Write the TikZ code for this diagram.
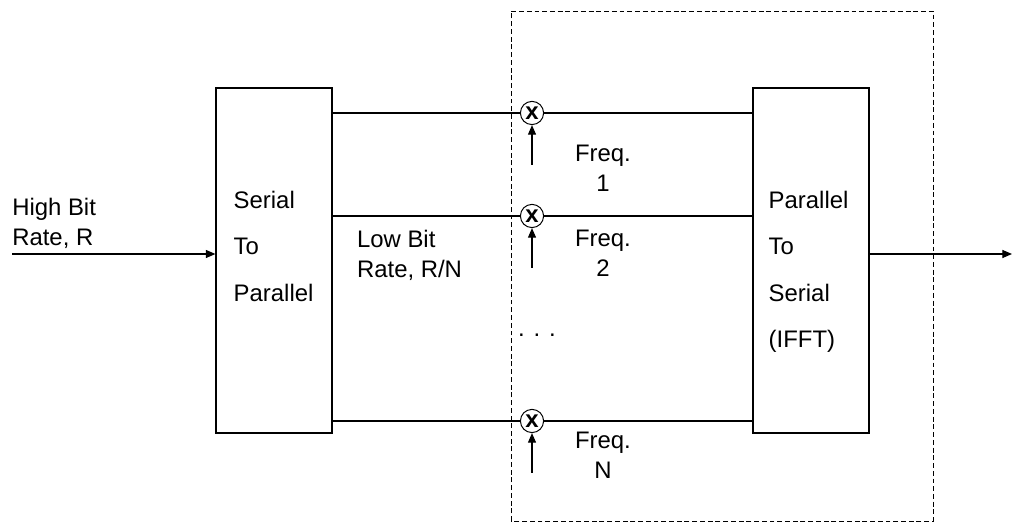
\documentclass[tikz,border=0pt]{standalone}
\usepackage{fontspec}
\setmainfont{Liberation Sans}
\usetikzlibrary{arrows.meta,positioning,calc}
\tikzset{
  block/.style={draw, line width=0.8pt, minimum width=29mm, minimum height=86.25mm, inner sep=0pt},
  blocktext/.style={anchor=north west, align=left, inner sep=0pt, font=\fontsize{17}{33}\selectfont},
  mixer/.style={draw, circle, line width=0.7pt, minimum size=5.8mm, inner sep=0pt,
    font=\fontsize{17}{17}\selectfont\bfseries},
  wire/.style={line width=0.8pt},
  flow/.style={-{Triangle[length=2.4mm, width=2mm]}, line width=0.8pt},
  tag/.style={align=left, inner sep=0pt, font=\fontsize{17}{21}\selectfont},
  group/.style={draw, line width=0.7pt, dash pattern=on 3.5pt off 2pt}
}

\begin{document}
\begin{tikzpicture}
  \useasboundingbox (0,0) rectangle (25.3,13.075);
  % dashed group round the carriers and the IFFT
  \draw[group] (12.775,0.05) rectangle (23.325,12.8);

  \node[block] (sp) at (6.85,6.5625) {};
  \node[block] (ps) at (20.275,6.5625) {};
  \node[blocktext] (sptext) at ($(sp.north west)+(0.45,-2.58)$) {Serial\\To\\Parallel};
  \node[blocktext] (pstext) at ($(ps.north west)+(0.4,-2.58)$) {Parallel\\To\\Serial\\(IFFT)};

  \node[mixer] (m1) at (13.3,10.25) {x};
  \node[mixer] (m2) at (13.3,7.675) {x};
  \node[mixer] (m3) at (13.3,2.55) {x};

  \foreach \i in {1,2,3} {
    \coordinate[below=1.3cm of m\i.center] (f\i);
    \draw[wire] (sp.east |- m\i) -- (m\i);
    \draw[wire] (m\i) -- (m\i -| ps.west);
    \draw[flow] (f\i) -- (m\i);
  }

  \node[tag, align=center, anchor=north] (freq1) at (15.075,9.45) {Freq.\\1};
  \node[tag, align=center, anchor=north] (freq2) at (15.075,7.325) {Freq.\\2};
  \node[tag, align=center, anchor=north] (freqN) at (15.075,2.275) {Freq.\\N};
  \node[tag] (dots) at (13.425,4.7) {. . .};

  \node[tag, anchor=north west] (high) at (0.3,8.125) {High Bit\\Rate, R};
  \node[tag, anchor=north west] (low) at (8.92,7.325) {Low Bit\\Rate, R/N};

  % input and output streams
  \coordinate (in) at (0.3,6.725);
  \coordinate (out) at (25.3,6.725);
  \draw[flow] (in) -- (in -| sp.west);
  \draw[flow] (ps.east |- out) -- (out);
\end{tikzpicture}
\end{document}
